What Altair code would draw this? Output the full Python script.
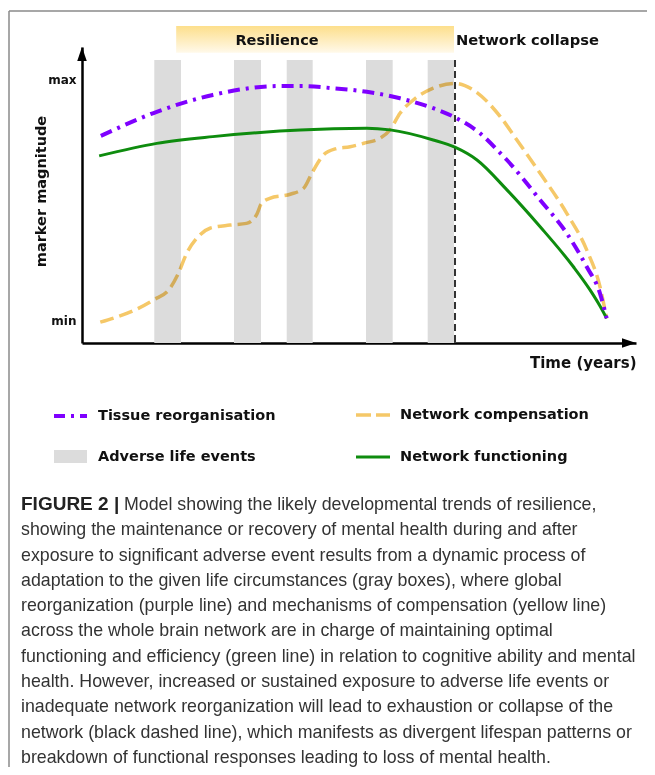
import altair as alt
import pandas as pd

# ---------------- data (time in arbitrary units 0-100, magnitude: 0 = min, 1 = max) -------------
PURPLE_T = [3.4, 13.5, 23.6, 35.7, 39.4, 45.3, 51.4, 57.4, 63.4, 67.3, 71.8, 75.5, 76.7, 82.7, 87.5, 91.1, 93.5, 94.7]
PURPLE_V = [0.768, 0.868, 0.938, 0.975, 0.975, 0.966, 0.951, 0.924, 0.883, 0.845, 0.780, 0.697, 0.668, 0.502, 0.364, 0.225, 0.115, 0.011]

GREEN_T = [3.1, 13.5, 23.6, 35.7, 39.4, 51.4, 55.6, 63.4, 67.3, 71.3, 76.7, 82.7, 88.7, 91.7, 93.5, 94.7]
GREEN_V = [0.685, 0.737, 0.765, 0.788, 0.793, 0.800, 0.793, 0.751, 0.721, 0.668, 0.544, 0.391, 0.225, 0.129, 0.062, 0.011]

YELLOW_T = [3.3, 12.9, 15.9, 17.4, 18.9, 20.7, 23.1, 26.7, 29.7, 31.5, 32.4, 33.9, 37.6, 40.0, 41.5, 43.6,
            45.7, 48.4, 51.1, 53.8, 55.6, 57.4, 59.8, 63.4, 67.3, 70.6, 75.5, 78.5, 82.7, 87.5, 91.1, 93.5, 94.7]
YELLOW_V = [-0.005, 0.087, 0.136, 0.198, 0.281, 0.343, 0.385, 0.398, 0.405, 0.440, 0.488, 0.509, 0.526, 0.551,
            0.614, 0.689, 0.714, 0.723, 0.739, 0.758, 0.793, 0.862, 0.917, 0.966, 0.986, 0.959, 0.848, 0.751,
            0.613, 0.447, 0.295, 0.142, 0.011]

EVENT_START = [13.05, 27.44, 36.95, 51.26, 62.40]
EVENT_END = [17.87, 32.31, 41.64, 56.08, 67.15]
EVENT_TOP = 1.083
COLLAPSE_T = 67.33
RESILIENCE_RANGE = [17.0, 67.15]
RESILIENCE_LEVELS = [1.224, 1.113]
PHASE_LABELS = ["Resilience", "Network collapse"]
PHASE_LABEL_T = [35.2, 67.5]
PHASE_LABEL_V = 1.162

LEVEL_TICKS = [0, 1]
LEVEL_LABELS = ["min", "max"]
X_TITLE = "Time (years)"
Y_TITLE = "marker magnitude"

LEGEND_LABELS = ["Tissue reorganisation", "Network compensation", "Adverse life events", "Network functioning"]

CAPTION_HEAD = "FIGURE 2 |"
CAPTION_LINES = [
    "Model showing the likely developmental trends of resilience,",
    "showing the maintenance or recovery of mental health during and after",
    "exposure to significant adverse event results from a dynamic process of",
    "adaptation to the given life circumstances (gray boxes), where global",
    "reorganization (purple line) and mechanisms of compensation (yellow line)",
    "across the whole brain network are in charge of maintaining optimal",
    "functioning and efficiency (green line) in relation to cognitive ability and mental",
    "health. However, increased or sustained exposure to adverse life events or",
    "inadequate network reorganization will lead to exhaustion or collapse of the",
    "network (black dashed line), which manifests as divergent lifespan patterns or",
    "breakdown of functional responses leading to loss of mental health.",
]

# ---------------- styles ----------------
X_DOMAIN = [0, 100]
Y_DOMAIN = [-0.0913, 1.1369]
W, H = 554, 296
PAD = {"left": 74, "top": 39, "right": 11, "bottom": 424}
FONT = "DejaVu Sans"
CAP_FONT = "Liberation Sans"
PURPLE = "#7f00ff"
GREEN = "#0e8c0e"
YELLOW = "#f5c868"
GRAY = "#dcdcdc"

xs = alt.Scale(domain=X_DOMAIN, nice=False, zero=False)
ys = alt.Scale(domain=Y_DOMAIN, nice=False, zero=False)

label_expr = " : ".join(
    [f"datum.value == {v} ? '{l}'" for v, l in zip(LEVEL_TICKS[:-1], LEVEL_LABELS[:-1])] + [f"'{LEVEL_LABELS[-1]}'"]
)

x_axis = alt.Axis(
    title=X_TITLE, labels=False, ticks=False, grid=False,
    domainColor="black", domainWidth=2.5,
    titleFont=FONT, titleFontSize=15, titleFontWeight="bold", titleColor="#111",
    titleAnchor="end", titleAlign="right", titleBaseline="middle", titleX=W, titleY=19,
)
y_axis = alt.Axis(
    title=Y_TITLE, values=LEVEL_TICKS, labelExpr=label_expr, ticks=False, grid=False,
    domainColor="black", domainWidth=2.5,
    labelFont=FONT, labelFontSize=12, labelFontWeight="bold", labelColor="#111", labelPadding=6,
    titleFont=FONT, titleFontSize=14.5, titleFontWeight="bold", titleColor="#111",
    titleAngle=270, titleAlign="center", titleBaseline="middle", titleX=-41, titleY=144,
)


def X(field):
    return alt.X(field, scale=xs, axis=x_axis)


def Y(field):
    return alt.Y(field, scale=ys, axis=y_axis)


one = pd.DataFrame({"k": [0]})

# frame of the figure box
frame_left = alt.Chart(one).mark_rule(color="#8a8a8a", strokeWidth=1.5).encode(
    x=alt.value(-73), y=alt.value(-36), y2=alt.value(H + PAD["bottom"]))
frame_top = alt.Chart(one).mark_rule(color="#8a8a8a", strokeWidth=1.5).encode(
    x=alt.value(-73), x2=alt.value(W + PAD["right"]), y=alt.value(-36))

# resilience band
band_df = pd.DataFrame({"t0": [RESILIENCE_RANGE[0]], "t1": [RESILIENCE_RANGE[1]],
                        "v0": [RESILIENCE_LEVELS[0]], "v1": [RESILIENCE_LEVELS[1]]})
band = alt.Chart(band_df).mark_rect(
    color=alt.LinearGradient(gradient="linear", x1=0, x2=0, y1=0, y2=1,
                             stops=[alt.GradientStop(color="#fddf8c", offset=0),
                                    alt.GradientStop(color="#fff9ea", offset=1)])
).encode(x=X("t0:Q"), x2="t1:Q", y=Y("v0:Q"), y2="v1:Q")

phase_df = pd.DataFrame({"label": PHASE_LABELS, "t": PHASE_LABEL_T, "v": [PHASE_LABEL_V] * 2})
phase_res = alt.Chart(phase_df.iloc[[0]]).mark_text(
    font=FONT, fontSize=14.5, fontWeight="bold", color="#111", align="center", baseline="middle"
).encode(x=X("t:Q"), y=Y("v:Q"), text="label:N")
phase_col = alt.Chart(phase_df.iloc[[1]]).mark_text(
    font=FONT, fontSize=14.7, fontWeight="bold", color="#111", align="left", baseline="middle"
).encode(x=X("t:Q"), y=Y("v:Q"), text="label:N")

# adverse life events
ev_df = pd.DataFrame({"t0": EVENT_START, "t1": EVENT_END, "top": [EVENT_TOP] * len(EVENT_START),
                      "bottom": [Y_DOMAIN[0]] * len(EVENT_START)})
events = alt.Chart(ev_df).mark_rect(color=GRAY).encode(
    x=X("t0:Q"), x2="t1:Q", y=Y("top:Q"), y2="bottom:Q")

# collapse line
col_df = pd.DataFrame({"t": [COLLAPSE_T], "top": [EVENT_TOP], "bottom": [Y_DOMAIN[0]]})
collapse = alt.Chart(col_df).mark_rule(color="#333", strokeWidth=2, strokeDash=[7, 4]).encode(
    x=X("t:Q"), y=Y("top:Q"), y2="bottom:Q")


def curve(ts, vs, interp, **mk):
    df = pd.DataFrame({"t": ts, "v": vs})
    return alt.Chart(df).mark_line(interpolate=interp, **mk).encode(x=X("t:Q"), y=Y("v:Q"))


yellow = curve(YELLOW_T, YELLOW_V, "monotone", color=YELLOW, strokeWidth=3.5, strokeDash=[14, 6], blend="multiply")
green = curve(GREEN_T, GREEN_V, "monotone", color=GREEN, strokeWidth=3)
purple = curve(PURPLE_T, PURPLE_V, "monotone", color=PURPLE, strokeWidth=4, strokeDash=[12, 6, 3, 6])

# axis arrow heads
up_df = pd.DataFrame({"t": [X_DOMAIN[0]], "v": [Y_DOMAIN[1] - 7 / H * (Y_DOMAIN[1] - Y_DOMAIN[0])]})
right_df = pd.DataFrame({"t": [X_DOMAIN[1] - 7 / W * (X_DOMAIN[1] - X_DOMAIN[0])], "v": [Y_DOMAIN[0]]})
arrow_up = alt.Chart(up_df).mark_point(shape="M0,-1L-0.68,1L0.68,1Z", filled=True, size=196,
                                       color="black", opacity=1).encode(x=X("t:Q"), y=Y("v:Q"))
arrow_right = alt.Chart(right_df).mark_point(shape="M1,0L-1,-0.68L-1,0.68Z", filled=True, size=196,
                                             color="black", opacity=1).encode(x=X("t:Q"), y=Y("v:Q"))


# legend
def leg_text(label, x, y):
    return alt.Chart(one).mark_text(font=FONT, fontSize=14.5, fontWeight="bold", color="#111",
                                    align="left", baseline="middle").encode(
        x=alt.value(x), y=alt.value(y), text=alt.value(label))


leg_purple = alt.Chart(one).mark_rule(color=PURPLE, strokeWidth=4, strokeDash=[11, 6, 3, 6]).encode(
    x=alt.value(-28), x2=alt.value(5), y=alt.value(369))
leg_yellow = alt.Chart(one).mark_rule(color=YELLOW, strokeWidth=3.5, strokeDash=[15, 5]).encode(
    x=alt.value(274), x2=alt.value(308), y=alt.value(368))
leg_gray = alt.Chart(one).mark_rect(color=GRAY).encode(
    x=alt.value(-28), x2=alt.value(5), y=alt.value(403), y2=alt.value(416))
leg_green = alt.Chart(one).mark_rule(color=GREEN, strokeWidth=3).encode(
    x=alt.value(274), x2=alt.value(308), y=alt.value(410))
leg_texts = [
    leg_text(LEGEND_LABELS[0], 16, 369),
    leg_text(LEGEND_LABELS[1], 318, 368),
    leg_text(LEGEND_LABELS[2], 16, 410),
    leg_text(LEGEND_LABELS[3], 318, 410),
]

# caption
cap_head = alt.Chart(one).mark_text(font=CAP_FONT, fontSize=19, fontWeight="bold", color="#222",
                                    align="left", baseline="alphabetic").encode(
    x=alt.value(-61), y=alt.value(463), text=alt.value(CAPTION_HEAD))
cap_first = alt.Chart(one).mark_text(font=CAP_FONT, fontSize=17.8, color="#333",
                                     align="left", baseline="alphabetic").encode(
    x=alt.value(42), y=alt.value(463), text=alt.value(CAPTION_LINES[0]))
cap_rest = alt.Chart(one).mark_text(font=CAP_FONT, fontSize=17.8, color="#333", lineHeight=25.3,
                                    align="left", baseline="alphabetic").encode(
    x=alt.value(-61), y=alt.value(488.3), text=alt.value(CAPTION_LINES[1:]))

chart = alt.layer(
    frame_left, frame_top, band, phase_res, phase_col, events, collapse,
    yellow, green, purple, arrow_up, arrow_right,
    leg_purple, leg_yellow, leg_gray, leg_green, *leg_texts,
    cap_head, cap_first, cap_rest,
).properties(
    width=W, height=H,
    autosize=alt.AutoSizeParams(type="none"),
    padding=PAD,
    background="white",
).configure_view(stroke=None)

chart.save("out.html", embed_options={"renderer": "svg", "actions": False})
